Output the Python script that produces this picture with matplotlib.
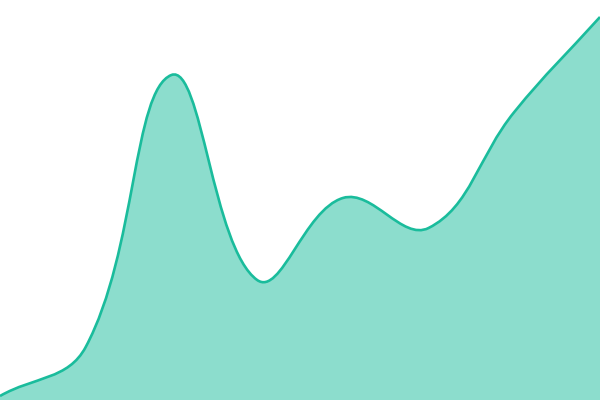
import numpy as np
import matplotlib
matplotlib.use("Agg")
import matplotlib.pyplot as plt
from matplotlib.path import Path
from matplotlib.patches import PathPatch

# values (0-100 scale), evenly spaced points
labels = ["A", "B", "C", "D", "E", "F", "G", "H"]
values = [1.0, 13.25, 81.25, 30.0, 50.5, 43.0, 72.0, 95.75]

TENSION = 0.4
W, H = 600, 400
x = np.arange(len(values), dtype=float)
xmax, ymax = len(values) - 1, 100.0
sxp, syp = W / xmax, H / ymax  # pixels per data unit


def spline_controls(xs, ys):
    # chart.js style spline: control points from neighbour distances (in pixels)
    n = len(xs)
    pts = np.column_stack([xs * sxp, ys * syp])
    ctrl = []
    for i in range(n):
        prev = pts[max(i - 1, 0)]
        cur = pts[i]
        nxt = pts[min(i + 1, n - 1)]
        d01 = np.hypot(*(cur - prev))
        d12 = np.hypot(*(nxt - cur))
        tot = d01 + d12
        s01 = d01 / tot if tot else 0
        s12 = d12 / tot if tot else 0
        before = cur - TENSION * s01 * (nxt - prev)
        after = cur + TENSION * s12 * (nxt - prev)
        before = np.clip(before, [0, 0], [W, H])
        after = np.clip(after, [0, 0], [W, H])
        ctrl.append((before / [sxp, syp], after / [sxp, syp]))
    verts = [(xs[0], ys[0])]
    codes = [Path.MOVETO]
    for i in range(n - 1):
        verts += [tuple(ctrl[i][1]), tuple(ctrl[i + 1][0]), (xs[i + 1], ys[i + 1])]
        codes += [Path.CURVE4] * 3
    return verts, codes


verts, codes = spline_controls(x, np.array(values))

fig = plt.figure(figsize=(6, 4), dpi=100)
ax = fig.add_axes([0, 0, 1, 1])

fill_verts = verts + [(x[-1], 0), (x[0], 0), verts[0]]
fill_codes = codes + [Path.LINETO, Path.LINETO, Path.CLOSEPOLY]
ax.add_patch(PathPatch(Path(fill_verts, fill_codes), facecolor="#1abc9c",
                       alpha=0.5, edgecolor="none"))
ax.add_patch(PathPatch(Path(verts, codes), facecolor="none",
                       edgecolor="#1abc9c", linewidth=1.9))
ax.set_xlim(0, xmax)
ax.set_ylim(0, ymax)
ax.axis("off")

fig.savefig("out.png", dpi=100)
